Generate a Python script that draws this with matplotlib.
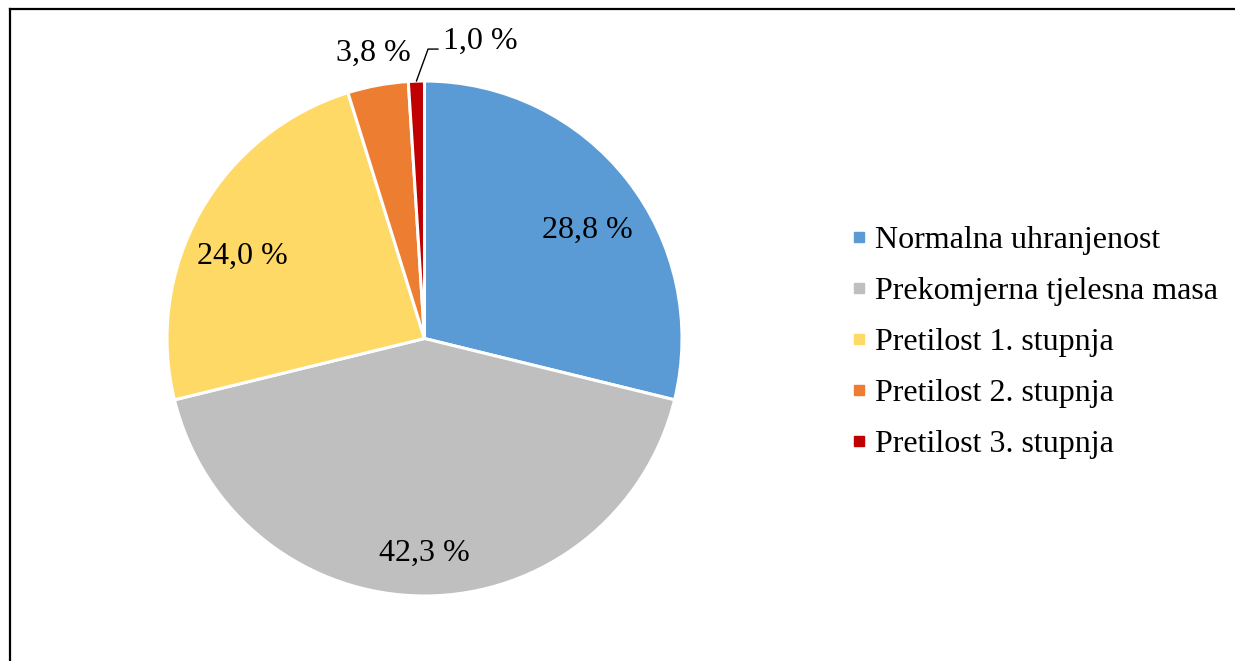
import matplotlib.pyplot as plt
import numpy as np
from matplotlib.lines import Line2D

categories = ['Normalna uhranjenost', 'Prekomjerna tjelesna masa',
              'Pretilost 1. stupnja', 'Pretilost 2. stupnja',
              'Pretilost 3. stupnja']
values = [28.8, 42.3, 24.0, 3.8, 1.0]
labels = ['28,8 %', '42,3 %', '24,0 %', '3,8 %', '1,0 %']
colors = ['#5B9BD5', '#BFBFBF', '#FFD966', '#ED7D31', '#C00000']


def main():
    plt.rcParams['font.family'] = ['Liberation Serif', 'DejaVu Serif']
    W, H = 1235, 661
    fig = plt.figure(figsize=(W / 100, H / 100), dpi=100)

    cx, cy, r = 424.5, 338.5, 257.5
    ax = fig.add_axes([(cx - r) / W, (H - cy - r) / H, 2 * r / W, 2 * r / H])
    wedges, _ = ax.pie(values, colors=colors, startangle=90, counterclock=False,
                       radius=1.0, wedgeprops=dict(edgecolor='white', linewidth=2.2))
    ax.set_xlim(-1, 1)
    ax.set_ylim(-1, 1)
    ax.set_aspect('equal')
    ax.axis('off')

    # label distance from centre and small nudges (in points)
    dist = [0.77, 0.83, 0.78, 1.13]
    nudge = [(5, -10), (0, -1), (-5, -12), (1, -1)]
    for w, lab, d, (dx, dy) in zip(wedges[:4], labels[:4], dist, nudge):
        ang = np.deg2rad((w.theta1 + w.theta2) / 2)
        ax.annotate(lab, (d * np.cos(ang), d * np.sin(ang)), xytext=(dx, dy),
                    textcoords='offset points', ha='center', va='center',
                    fontsize=23, annotation_clip=False)

    # leader line for the smallest slice
    w = wedges[4]
    ang = np.deg2rad((w.theta1 + w.theta2) / 2)
    ax.annotate('', xy=(np.cos(ang), np.sin(ang)), xytext=(0.053, 1.124),
                annotation_clip=False,
                arrowprops=dict(arrowstyle='-', color='black', lw=1.0,
                                shrinkA=0, shrinkB=0,
                                connectionstyle='angle,angleA=0,angleB=70,rad=0'))
    ax.text(0.072, 1.155, labels[4], ha='left', va='center', fontsize=23,
            clip_on=False)

    handles = [Line2D([], [], marker='s', linestyle='none', markersize=6.5,
                      markerfacecolor=c, markeredgecolor=c) for c in colors]
    fig.legend(handles, categories, loc='center left',
               bbox_to_anchor=(850 / W, 1 - 342.5 / H), frameon=False,
               fontsize=23, handlelength=0.55, handletextpad=0.23,
               labelspacing=0.675, borderpad=0, borderaxespad=0)

    fig.add_artist(Line2D([10 / W, 10 / W], [0, 1 - 9 / H], color='black', lw=1.6))
    fig.add_artist(Line2D([10 / W, 1], [1 - 9 / H, 1 - 9 / H], color='black', lw=1.6))

    fig.savefig('out.png', dpi=100)


if __name__ == '__main__':
    main()
